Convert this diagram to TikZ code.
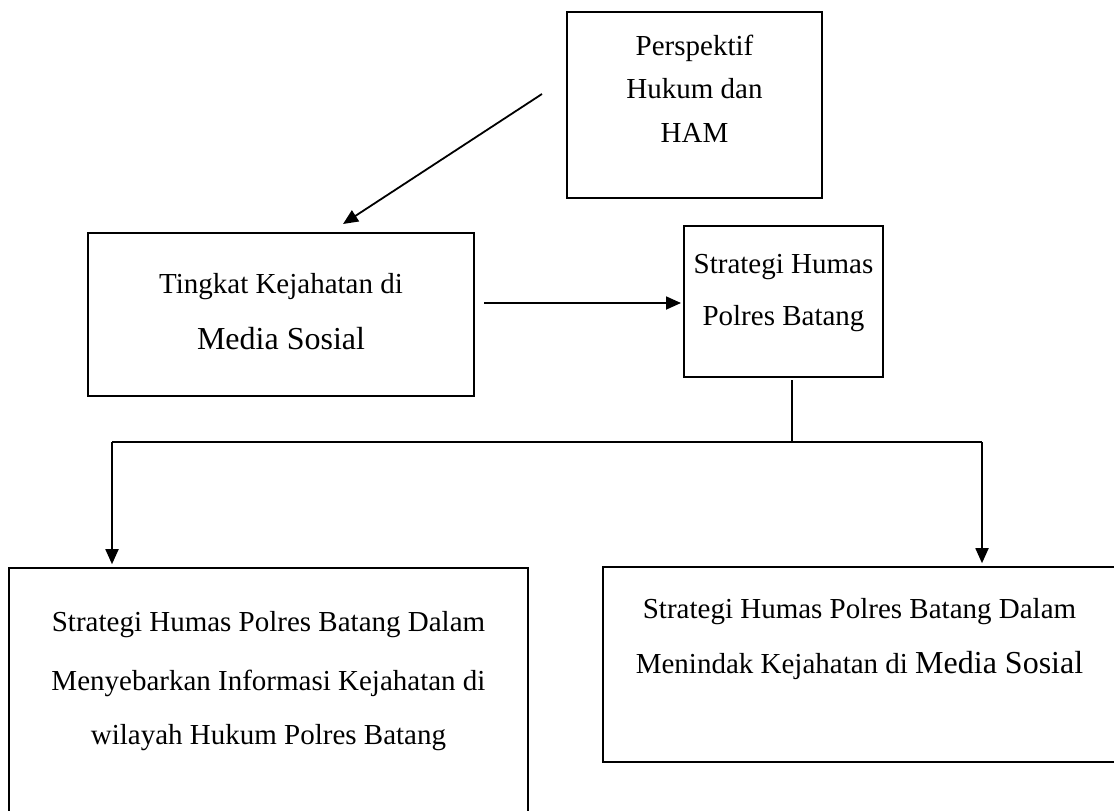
\documentclass[tikz,border=0pt]{standalone}
\usepackage{fontspec}
\setmainfont{Liberation Serif}
\usetikzlibrary{arrows.meta}
\begin{document}
\begin{tikzpicture}[x=1pt,y=-1pt,
  box/.style={draw,line width=1.6pt,inner sep=0pt},
  txt/.style={anchor=base,inner sep=0pt,font=\fontsize{29}{34}\selectfont},
  bigtxt/.style={anchor=base,inner sep=0pt,font=\fontsize{32}{38}\selectfont},
  conn/.style={line width=1.8pt},
  arr/.style={conn,-{Triangle[length=15pt,width=13pt]}}]
\useasboundingbox (0,0) rectangle (1114,811);
\fill[white] (0,0) rectangle (1114,811);
% boxes
\node[box,minimum width=255pt,minimum height=186pt] (ham) at (694.5,105) {};
\node[box,minimum width=386pt,minimum height=163pt] (tk) at (281,314.5) {};
\node[box,minimum width=199pt,minimum height=151pt] (sh) at (783.5,301.5) {};
\node[box,minimum width=519pt,minimum height=247pt] (bl) at (268.5,691.5) {};
\node[box,minimum width=513pt,minimum height=195pt] (br) at (859.5,664.5) {};
% texts
\node[txt] (ham1) at (694.5,55) {Perspektif};
\node[txt] (ham2) at (694.5,98) {Hukum dan};
\node[txt] (ham3) at (694.5,142) {HAM};
\node[txt] (tk1) at (281,293) {Tingkat Kejahatan di};
\node[bigtxt] (tk2) at (281,349) {Media Sosial};
\node[txt] (sh1) at (783.5,273) {Strategi Humas};
\node[txt] (sh2) at (783.5,325) {Polres Batang};
\node[txt] (bl1) at (268.5,631) {Strategi Humas Polres Batang Dalam};
\node[txt] (bl2) at (268.5,690) {Menyebarkan Informasi Kejahatan di};
\node[txt] (bl3) at (268.5,744) {wilayah Hukum Polres Batang};
\node[txt] (br1) at (859.5,618) {Strategi Humas Polres Batang Dalam};
\node[txt] (br2) at (859.5,673) {Menindak Kejahatan di {\fontsize{32}{38}\selectfont Media Sosial}};
% connectors
\coordinate (a1) at (542,94);
\coordinate (a2) at (343,224);
\draw[arr] (a1) -- (a2);
\coordinate (b1) at (484,303);
\coordinate (b2) at (681,303);
\draw[arr] (b1) -- (b2);
\coordinate (v1) at (792,380);
\coordinate (v2) at (792,442);
\draw[conn] (v1) -- (v2);
\coordinate (hl) at (112,442);
\coordinate (hr) at (982,442);
\draw[conn] (hl) -- (hr);
\draw[arr] (hl) -- ([yshift=3pt]bl.north -| hl);
\draw[arr] (hr) -- ([yshift=3pt]br.north -| hr);
\end{tikzpicture}
\end{document}
